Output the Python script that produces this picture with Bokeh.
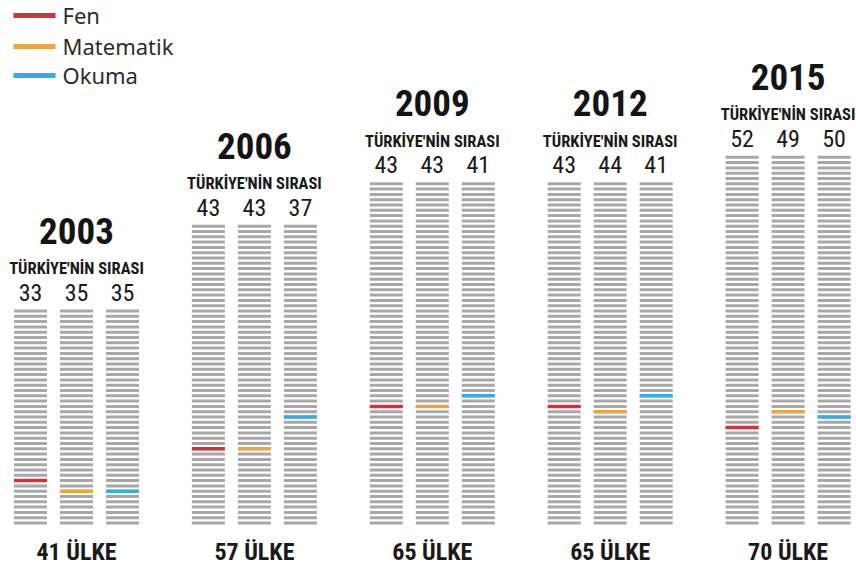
from bokeh.plotting import figure
from bokeh.models import Range1d
from bokeh.core.properties import value
from bokeh.embed import file_html
from bokeh.resources import INLINE

# ---- data ----
years = ["2003", "2006", "2009", "2012", "2015"]
countries = [41, 57, 65, 65, 70]
fen = [33, 43, 43, 43, 52]
matematik = [35, 43, 43, 44, 49]
okuma = [35, 37, 41, 41, 50]
subjects = ["Fen", "Matematik", "Okuma"]
subject_colors = ["#d3313b", "#eea446", "#36aee0"]
header_text = "TÜRKİYE'NİN SIRASI"
count_suffix = "ÜLKE"

# ---- layout constants ----
W, H = 856, 567
ROW = 5.3            # pixel pitch of one country line
BASE = 522.5         # pixel y of the bottom line
GROUP0, GROUP_STEP = 76, 177.9
COL_OFF, COL_W = 46, 33
COND = value("Roboto Condensed, Liberation Sans")


def py(pix_y):
    return (BASE - pix_y) / ROW


p = figure(width=W, height=H, x_range=Range1d(0, W),
           y_range=Range1d(py(H), py(0)),
           output_backend="svg", toolbar_location=None, min_border=0)
p.axis.visible = False
p.grid.visible = False
p.outline_line_color = None
p.background_fill_color = "white"
p.border_fill_color = "white"

series = [fen, matematik, okuma]

gx0, gx1, gy = [], [], []
cx0, cx1, cy, cc = [], [], [], []
yr_x, yr_y, hd_y, bt_y, bt_t = [], [], [], [], []
num_x, num_y, num_t = [], [], []

for i, (yr, n) in enumerate(zip(years, countries)):
    gc = GROUP0 + i * GROUP_STEP
    top = n - 1
    yr_x.append(gc)
    yr_y.append(top + 80.5 / ROW)
    hd_y.append(top + 42.5 / ROW)
    bt_y.append(py(551))
    bt_t.append(f"{n} {count_suffix}")
    for j in range(3):
        cxm = gc + (j - 1) * COL_OFF
        rank = series[j][i]
        for r in range(n):
            gx0.append(cxm - COL_W / 2)
            gx1.append(cxm + COL_W / 2)
            gy.append(r)
        cx0.append(cxm - COL_W / 2)
        cx1.append(cxm + COL_W / 2)
        cy.append(n - rank)
        cc.append(subject_colors[j])
        num_x.append(cxm)
        num_y.append(top + 19 / ROW)
        num_t.append(str(rank))

p.segment(x0=gx0, y0=gy, x1=gx1, y1=gy, line_color="#a8a8a8",
          line_width=3, line_cap="butt")
p.segment(x0=cx0, y0=cy, x1=cx1, y1=cy, line_color=cc,
          line_width=3.5, line_cap="butt")

p.text(x=yr_x, y=yr_y, text=years, text_align="center", text_baseline="middle",
       text_font=COND, text_font_style="bold",
       text_font_size="37px", text_color="#141414")
p.text(x=yr_x, y=hd_y, text=[header_text] * len(years), text_align="center",
       text_baseline="middle", text_font=COND,
       text_font_style="bold", text_font_size="16.5px", text_color="#1a1a1a")
p.text(x=num_x, y=num_y, text=num_t, text_align="center", text_baseline="middle",
       text_font=COND, text_font_size="24px", text_color="#1a1a1a")
p.text(x=yr_x, y=bt_y, text=bt_t, text_align="center", text_baseline="middle",
       text_font=COND, text_font_style="bold",
       text_font_size="24px", text_color="#1a1a1a")

# legend
leg_y = [py(15), py(46), py(75)]
p.segment(x0=[13] * 3, y0=leg_y, x1=[55] * 3, y1=leg_y, line_color=subject_colors,
          line_width=5, line_cap="butt")
p.text(x=[62] * 3, y=[py(14), py(45), py(74)], text=subjects, text_align="left",
       text_baseline="middle", text_font=value("Noto Sans"), text_font_size="22px",
       text_color="#2b2b2b")

open("out.html", "w").write(file_html(p, INLINE))
